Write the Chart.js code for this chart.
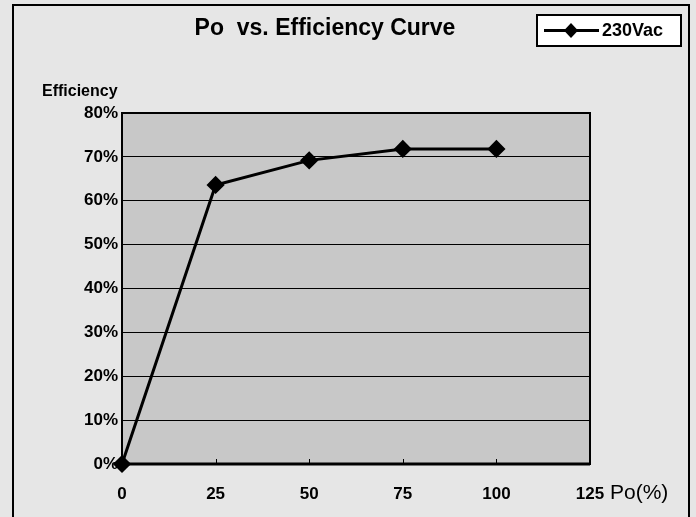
<!DOCTYPE html>
<html>
<head>
<meta charset="utf-8">
<script src="https://cdn.jsdelivr.net/npm/chart.js@4.4.0/dist/chart.umd.min.js"></script>
<style>
  html, body { margin: 0; padding: 0; background: #e6e6e6; }
  #wrap { width: 696px; height: 517px; position: relative; }
</style>
</head>
<body>
<div id="wrap"><canvas id="c" width="696" height="517"></canvas></div>
<script>
// ---- data ----
const poPercent = [0, 25, 50, 75, 100];
const efficiency230 = [0, 63.6, 69.2, 71.8, 71.8];
const seriesName = '230Vac';
const chartTitle = 'Po  vs. Efficiency Curve';
const yAxisLabel = 'Efficiency';
const xAxisLabel = 'Po(%)';
const xTicks = [0, 25, 50, 75, 100, 125];
const yTicks = [0, 10, 20, 30, 40, 50, 60, 70, 80];

const FONT = '"Liberation Sans", Arial, sans-serif';

const decor = {
  id: 'decor',
  beforeDraw(chart) {
    const ctx = chart.ctx, a = chart.chartArea;
    ctx.save();
    ctx.fillStyle = '#e6e6e6';
    ctx.fillRect(0, 0, chart.width, chart.height);
    ctx.fillStyle = '#c8c8c8';
    ctx.fillRect(a.left, a.top, a.right - a.left, a.bottom - a.top);
    // outer frame
    ctx.strokeStyle = '#000';
    ctx.lineWidth = 2;
    ctx.beginPath();
    ctx.moveTo(13, 517); ctx.lineTo(13, 5); ctx.lineTo(689, 5); ctx.lineTo(689, 517);
    ctx.stroke();
    ctx.restore();
  },
  afterDraw(chart) {
    const ctx = chart.ctx, a = chart.chartArea;
    const xs = chart.scales.x;
    ctx.save();
    // plot border
    ctx.strokeStyle = '#000';
    ctx.lineWidth = 2;
    ctx.strokeRect(a.left, a.top, a.right - a.left, a.bottom - a.top);
    ctx.lineWidth = 3;
    ctx.beginPath(); ctx.moveTo(a.left, a.bottom); ctx.lineTo(a.right, a.bottom); ctx.stroke();
    // inward tick marks on x axis
    ctx.lineWidth = 1;
    xTicks.forEach(v => {
      const px = Math.round(xs.getPixelForValue(v)) + 0.5;
      ctx.beginPath(); ctx.moveTo(px, a.bottom); ctx.lineTo(px, a.bottom - 5); ctx.stroke();
    });
    // title
    ctx.fillStyle = '#000';
    ctx.textBaseline = 'middle';
    ctx.textAlign = 'center';
    ctx.font = 'bold 23px ' + FONT;
    ctx.fillText(chartTitle, 325, 29);
    // y label
    ctx.font = 'bold 16px ' + FONT;
    ctx.textAlign = 'left';
    ctx.fillText(yAxisLabel, 42, 92);
    // x label
    ctx.font = '21px ' + FONT;
    ctx.textAlign = 'left';
    ctx.fillText(xAxisLabel, 610, 493);
    // legend box
    ctx.fillStyle = '#ffffff';
    ctx.fillRect(537, 15, 144, 31);
    ctx.lineWidth = 2;
    ctx.strokeRect(537, 15, 144, 31);
    ctx.lineWidth = 3;
    ctx.beginPath(); ctx.moveTo(544, 30.5); ctx.lineTo(599, 30.5); ctx.stroke();
    ctx.fillStyle = '#000';
    ctx.beginPath();
    ctx.moveTo(571, 23); ctx.lineTo(578, 30.5); ctx.lineTo(571, 38); ctx.lineTo(564, 30.5); ctx.closePath();
    ctx.fill();
    ctx.font = 'bold 18px ' + FONT;
    ctx.fillText(seriesName, 602, 31);
    ctx.restore();
  }
};

new Chart(document.getElementById('c'), {
  type: 'line',
  data: {
    datasets: [{
      label: seriesName,
      data: poPercent.map((x, i) => ({ x: x, y: efficiency230[i] })),
      borderColor: '#000',
      backgroundColor: '#000',
      borderWidth: 3,
      pointStyle: 'rectRot',
      pointRadius: 7,
      pointHoverRadius: 7,
      tension: 0,
      clip: false
    }]
  },
  options: {
    responsive: false,
    animation: false,
    devicePixelRatio: 1,
    layout: { padding: { left: 0, right: 106, top: 113, bottom: 0 } },
    plugins: { legend: { display: false }, title: { display: false }, tooltip: { enabled: false } },
    scales: {
      x: {
        type: 'linear', min: 0, max: 125,
        afterBuildTicks(s) { s.ticks = xTicks.map(v => ({ value: v })); },
        afterFit(s) { s.height = 53; },
        grid: { display: false, drawTicks: false },
        border: { display: false },
        ticks: { color: '#000', padding: 20, font: { family: FONT, size: 17, weight: 'bold' }, maxRotation: 0 }
      },
      y: {
        min: 0, max: 80,
        afterBuildTicks(s) { s.ticks = yTicks.map(v => ({ value: v })); },
        afterFit(s) { s.width = 122; },
        grid: { color: '#000', lineWidth: 1, drawTicks: false },
        border: { display: false },
        ticks: { color: '#000', padding: 4, font: { family: FONT, size: 17, weight: 'bold' }, callback: v => v + '%' }
      }
    }
  },
  plugins: [decor]
});
</script>
</body>
</html>
